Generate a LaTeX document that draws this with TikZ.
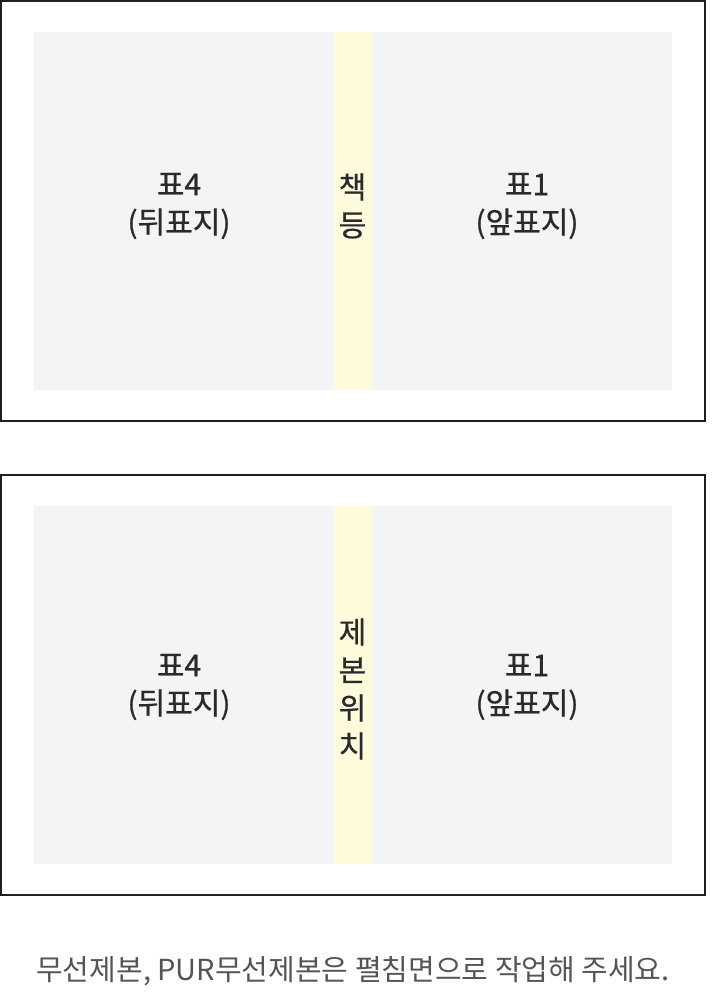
\documentclass[tikz,border=0pt]{standalone}
\usepackage{fontspec}
\setmainfont{Noto Sans CJK KR}
\newfontfamily\medfont[FakeBold=0.6]{Noto Sans CJK KR}
\definecolor{pagegray}{HTML}{F3F4F6}
\definecolor{spineyel}{HTML}{FEFADC}
\definecolor{txt}{HTML}{2A2A2A}
\definecolor{note}{HTML}{555555}
\begin{document}
\begin{tikzpicture}[x=1pt,y=-1pt,
  frame/.style={draw=black!88,line width=2pt},
  cover/.style={fill=pagegray},
  spine/.style={fill=spineyel},
  lbl/.style={text=txt,font=\medfont\fontsize{30}{38}\selectfont,align=center,inner sep=0pt},
  notetxt/.style={text=note,font=\fontsize{29}{30}\selectfont,inner sep=0pt}]
\useasboundingbox (0,0) rectangle (712,1000);
% box 1
\draw[frame] (1,1) rectangle (705,421);
\fill[cover] (34,32) rectangle (672,390);
\fill[spine] (333,32) rectangle (372,390);
\node[lbl] (b1l) at (179,206) {표4\\(뒤표지)};
\node[lbl] (b1s) at (352.5,206) {책\\등};
\node[lbl] (b1r) at (527,206) {표1\\(앞표지)};
% box 2
\draw[frame] (1,475) rectangle (705,895);
\fill[cover] (34,506) rectangle (672,864);
\fill[spine] (333,506) rectangle (372,864);
\node[lbl] (b2l) at (179,687) {표4\\(뒤표지)};
\node[lbl] (b2s) at (352.5,689) {제\\본\\위\\치};
\node[lbl] (b2r) at (527,687) {표1\\(앞표지)};
% note
\node[notetxt] (nt) at (353,971) {무선제본, PUR무선제본은 펼침면으로 작업해 주세요.};
\end{tikzpicture}
\end{document}
